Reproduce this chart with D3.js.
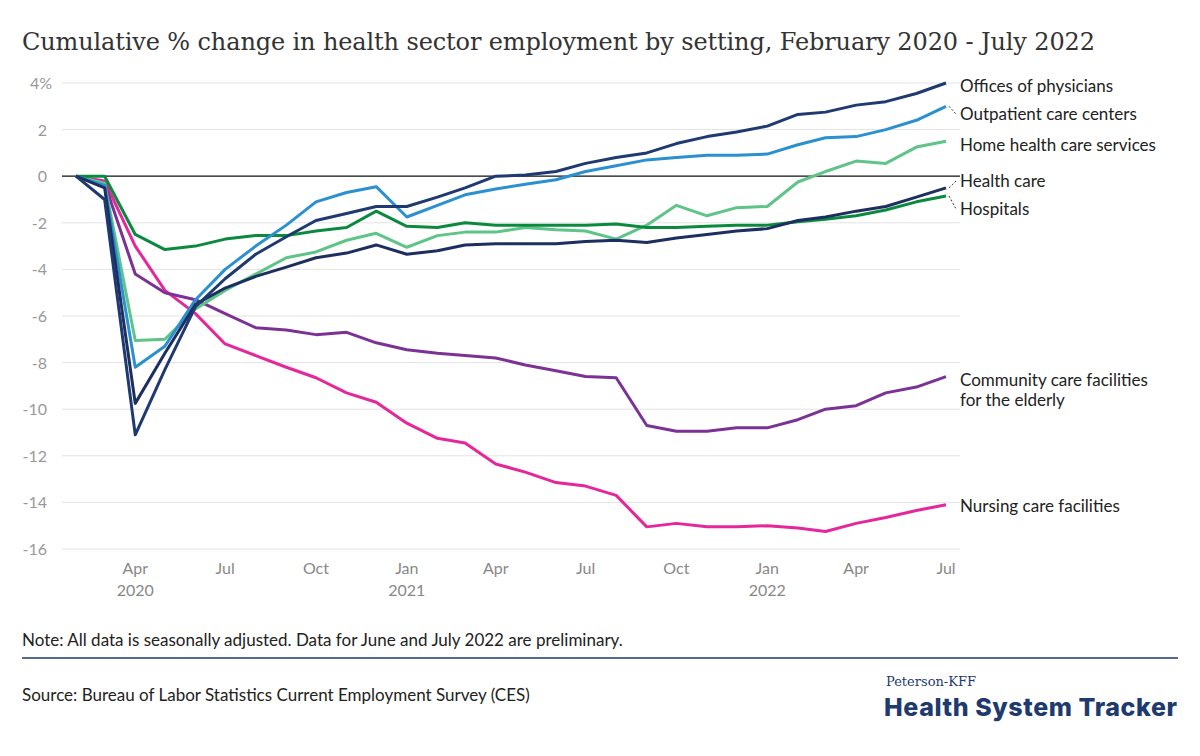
<!DOCTYPE html>
<html><head><meta charset="utf-8">
<script src="https://cdn.jsdelivr.net/npm/d3@7"></script>
<style>body{margin:0;background:#fff}</style></head>
<body><svg id="c" width="1200" height="756"></svg>
<script>
const months = ["2020-02","2020-03","2020-04","2020-05","2020-06","2020-07","2020-08","2020-09","2020-10","2020-11","2020-12","2021-01","2021-02","2021-03","2021-04","2021-05","2021-06","2021-07","2021-08","2021-09","2021-10","2021-11","2021-12","2022-01","2022-02","2022-03","2022-04","2022-05","2022-06","2022-07"];
const physicians = [0,-1.0,-11.1,-8.3,-5.6,-4.4,-3.35,-2.6,-1.9,-1.6,-1.3,-1.3,-0.9,-0.5,0,0.05,0.2,0.55,0.8,1.0,1.4,1.7,1.9,2.15,2.65,2.75,3.05,3.2,3.55,4.0];
const healthCare = [0,-0.5,-9.75,-7.6,-5.5,-4.8,-4.3,-3.9,-3.5,-3.3,-2.95,-3.35,-3.2,-2.95,-2.9,-2.9,-2.9,-2.8,-2.75,-2.85,-2.65,-2.5,-2.35,-2.25,-1.9,-1.75,-1.5,-1.3,-0.9,-0.5];
const outpatient = [0,-0.4,-8.2,-7.3,-5.3,-4.0,-3.0,-2.1,-1.1,-0.7,-0.45,-1.75,-1.25,-0.8,-0.55,-0.35,-0.15,0.2,0.45,0.7,0.8,0.9,0.9,0.95,1.35,1.65,1.7,2.0,2.4,3.0];
const hospitals = [0,0,-2.5,-3.15,-3.0,-2.7,-2.55,-2.55,-2.35,-2.2,-1.5,-2.15,-2.2,-2.0,-2.1,-2.1,-2.1,-2.1,-2.05,-2.2,-2.2,-2.15,-2.1,-2.1,-1.95,-1.85,-1.7,-1.45,-1.1,-0.85];
const homeHealth = [0,-0.3,-7.05,-7.0,-5.7,-4.9,-4.2,-3.5,-3.25,-2.75,-2.45,-3.05,-2.55,-2.4,-2.4,-2.2,-2.3,-2.35,-2.7,-2.1,-1.25,-1.7,-1.35,-1.3,-0.25,0.2,0.65,0.55,1.25,1.5];
const elderly = [0,-0.3,-4.2,-5.0,-5.3,-5.9,-6.5,-6.6,-6.8,-6.7,-7.15,-7.45,-7.6,-7.7,-7.8,-8.1,-8.35,-8.6,-8.65,-10.7,-10.95,-10.95,-10.8,-10.8,-10.45,-10.0,-9.85,-9.3,-9.05,-8.6];
const nursing = [0,-0.2,-3.0,-4.9,-5.9,-7.2,-7.7,-8.2,-8.65,-9.3,-9.7,-10.6,-11.25,-11.45,-12.35,-12.7,-13.15,-13.3,-13.7,-15.05,-14.9,-15.05,-15.05,-15.0,-15.1,-15.25,-14.9,-14.65,-14.35,-14.1];
const yTicks = [4,2,0,-2,-4,-6,-8,-10,-12,-14,-16];
const xTickMonths = ["2020-04","2020-07","2020-10","2021-01","2021-04","2021-07","2021-10","2022-01","2022-04","2022-07"];

const series = [
 {name:["Nursing care facilities"], v:nursing, c:"#e6279b", ly:512},
 {name:["Community care facilities","for the elderly"], v:elderly, c:"#7b3294", ly:386},
 {name:["Home health care services"], v:homeHealth, c:"#5ec487", ly:151},
 {name:["Hospitals"], v:hospitals, c:"#0b8a3e", ly:215, lead:true},
 {name:["Outpatient care centers"], v:outpatient, c:"#2b90d0", ly:120, lead:true},
 {name:["Health care"], v:healthCare, c:"#1c2f60", ly:187, lead:true},
 {name:["Offices of physicians"], v:physicians, c:"#1e3a70", ly:92},
];
const parse = d3.timeParse("%Y-%m");
const svg = d3.select("#c");
const x = d3.scaleTime().domain([parse(months[0]), parse(months[months.length-1])]).range([76,946]);
const y = d3.scaleLinear().domain([-16,4]).range([549,83]);
const font = "Lato, 'Open Sans', sans-serif";

svg.append("text").attr("x",22).attr("y",50).attr("font-family","'DejaVu Serif', Georgia, serif").attr("font-size",24).attr("fill","#333").attr("textLength",1073)
 .text("Cumulative % change in health sector employment by setting, February 2020 - July 2022");

svg.append("g").selectAll("line").data(yTicks).join("line")
 .attr("x1",62).attr("x2",960).attr("y1",d=>y(d)).attr("y2",d=>y(d))
 .attr("stroke",d=>d===0?"#111":"#e3e3e3").attr("stroke-width",d=>d===0?1.3:1);
svg.append("g").selectAll("text").data(yTicks).join("text")
 .attr("x",d=>d===4?52:47).attr("y",d=>y(d)+6).attr("text-anchor","end")
 .attr("font-family",font).attr("font-size",16).attr("fill","#999")
 .text(d=>d===4?"4%":d);

const xt = svg.append("g").selectAll("g").data(xTickMonths).join("g");
xt.append("text").attr("x",d=>x(parse(d))).attr("y",574).attr("text-anchor","middle")
 .attr("font-family",font).attr("font-size",16).attr("fill","#888")
 .text(d=>d3.timeFormat("%b")(parse(d)));
xt.filter(d=>d==="2020-04"||d.endsWith("-01")).append("text")
 .attr("x",d=>x(parse(d))).attr("y",596).attr("text-anchor","middle")
 .attr("font-family",font).attr("font-size",16).attr("fill","#888")
 .text(d=>d.slice(0,4));

const line = d3.line().x((d,i)=>x(parse(months[i]))).y(d=>y(d));
series.forEach(s=>{
 svg.append("path").attr("d",line(s.v)).attr("fill","none").attr("stroke",s.c).attr("stroke-width",3).attr("stroke-linejoin","round");
 const lx=960, last=s.v[s.v.length-1], py=y(last);
 if (s.lead) {
  svg.append("line").attr("x1",x(parse(months[months.length-1]))+3).attr("y1",py).attr("x2",lx-4).attr("y2",s.ly-6)
   .attr("stroke","#333").attr("stroke-width",1).attr("stroke-dasharray","2,2");
 }
 const t = svg.append("text").attr("x",lx).attr("y",s.ly).attr("font-family",font).attr("font-size",17).attr("fill","#222");
 s.name.forEach((n,i)=>t.append("tspan").attr("x",lx).attr("dy",i?20:0).text(n));
});

svg.append("text").attr("x",22).attr("y",646).attr("font-family",font).attr("font-size",17).attr("fill","#222")
 .text("Note: All data is seasonally adjusted. Data for June and July 2022 are preliminary.");
svg.append("line").attr("x1",22).attr("x2",1178).attr("y1",658).attr("y2",658).attr("stroke","#1e3a6e").attr("stroke-width",1.5);
svg.append("text").attr("x",22).attr("y",701).attr("font-family",font).attr("font-size",17).attr("fill","#222")
 .text("Source: Bureau of Labor Statistics Current Employment Survey (CES)");
svg.append("text").attr("x",886).attr("y",686).attr("font-family","'DejaVu Serif', serif").attr("font-size",13).attr("fill","#1e3a6e").text("Peterson-KFF");
svg.append("text").attr("x",884).attr("y",716).attr("font-family","Inter, Roboto, sans-serif").attr("font-weight",800).attr("font-size",25).attr("fill","#1e3a6e").attr("textLength",293).text("Health System Tracker");
</script></body></html>
